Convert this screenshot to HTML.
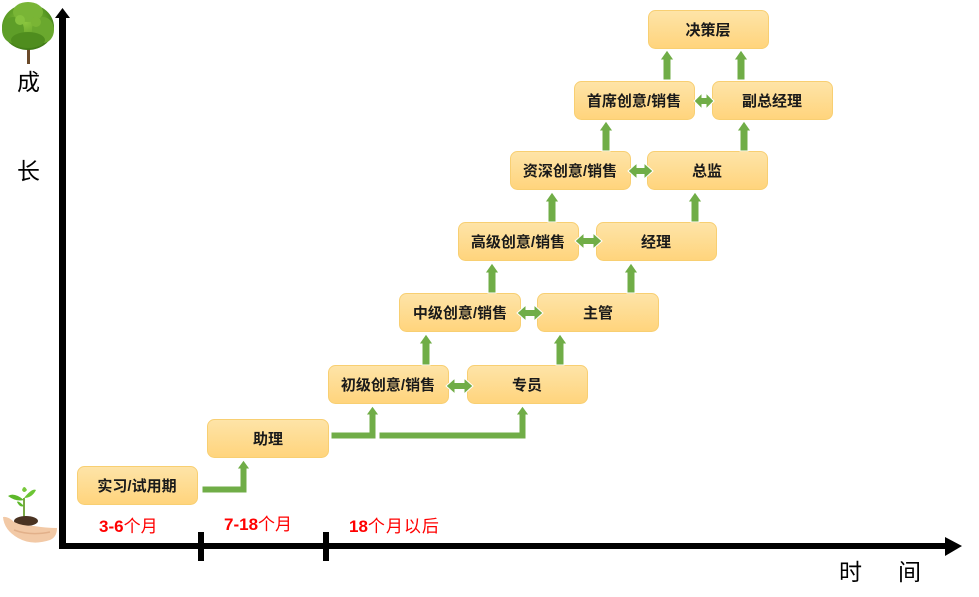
<!DOCTYPE html>
<html><head><meta charset="utf-8"><style>
html,body{margin:0;padding:0;background:#fff;}
body{width:979px;height:597px;overflow:hidden;position:relative;}
svg{position:absolute;left:0;top:0;}
.bt{font-family:"Liberation Sans","Noto Sans CJK SC",sans-serif;font-size:15px;font-weight:bold;fill:#1a1a1a;}
.ax{font-family:"Liberation Sans","Noto Sans CJK SC",sans-serif;font-size:23px;fill:#000;}
.rd{font-family:"Liberation Sans","Noto Sans CJK SC",sans-serif;font-size:17px;fill:#ff0000;}
</style></head><body>
<svg width="979" height="597" viewBox="0 0 979 597" xmlns="http://www.w3.org/2000/svg">
<defs>
<linearGradient id="g" x1="0" y1="0" x2="0" y2="1">
<stop offset="0" stop-color="#fee4a8"/>
<stop offset="1" stop-color="#ffd47c"/>
</linearGradient>
<radialGradient id="tr" cx="0.45" cy="0.4" r="0.6">
<stop offset="0" stop-color="#8cc63f"/>
<stop offset="0.7" stop-color="#5a9a24"/>
<stop offset="1" stop-color="#3f7a16"/>
</radialGradient>
</defs>

<!-- tree -->
<rect x="27" y="40" width="3" height="24" fill="#6b4a2a"/>
<ellipse cx="28" cy="27" rx="26" ry="23" fill="url(#tr)"/>
<ellipse cx="13" cy="30" rx="11" ry="13" fill="#5e9e28"/>
<ellipse cx="43" cy="30" rx="11" ry="13" fill="#6aa82e"/>
<ellipse cx="28" cy="12" rx="15" ry="10" fill="#79b536"/>
<ellipse cx="28" cy="40" rx="17" ry="8" fill="#4f8d1e"/>
<circle cx="20" cy="20" r="5" fill="#86c23e"/>
<circle cx="36" cy="22" r="5" fill="#7ab535"/>

<!-- seedling in hand -->
<path d="M24 520 L24 498" stroke="#7aa845" stroke-width="2" fill="none"/>
<path d="M24 500 Q14 492 8 496 Q16 502 24 500Z" fill="#5db82a"/>
<path d="M24 498 Q32 488 36 490 Q32 498 24 498Z" fill="#6cc534"/>
<path d="M24 506 Q18 500 17 502 Q20 508 24 506Z" fill="#5db82a"/>
<path d="M22 490 Q24 484 27 490 Q24 494 22 490Z" fill="#78c83c"/>
<ellipse cx="26" cy="521" rx="12" ry="5" fill="#4a3322"/>
<path d="M3 517 Q4 530 18 538 Q32 546 50 540 Q57 537 57 528 Q46 528 34 526 Q22 526 14 522 Q8 516 3 517Z" fill="#f2c9a6"/>
<path d="M14 530 Q30 536 50 532" stroke="#e2b08a" stroke-width="1.5" fill="none"/>

<!-- axes -->
<rect x="59" y="14" width="7" height="535" fill="#000"/>
<polygon points="62.5,8 55,18 70,18" fill="#000"/>
<rect x="59" y="543" width="892" height="6" fill="#000"/>
<polygon points="962,546 945,537 945,556" fill="#000"/>
<rect x="198" y="532" width="6" height="29" fill="#000"/>
<rect x="323" y="532" width="6" height="29" fill="#000"/>

<text class="ax" x="17" y="90">成</text>
<text class="ax" x="17" y="179">长</text>
<text class="ax" x="839" y="580">时</text>
<text class="ax" x="898" y="580">间</text>

<text class="rd" x="99" y="532"><tspan font-weight="bold">3-6</tspan>个月</text>
<text class="rd" x="224" y="530"><tspan font-weight="bold">7-18</tspan>个月</text>
<text class="rd" x="349" y="532"><tspan font-weight="bold">18</tspan><tspan letter-spacing="1">个月以后</tspan></text>

<!-- boxes -->
<g stroke="#f8cf72" stroke-width="1" fill="url(#g)">
<rect x="648.5" y="10.5" width="120" height="38" rx="7"/>
<rect x="574.5" y="81.5" width="120" height="38" rx="7"/>
<rect x="712.5" y="81.5" width="120" height="38" rx="7"/>
<rect x="510.5" y="151.5" width="120" height="38" rx="7"/>
<rect x="647.5" y="151.5" width="120" height="38" rx="7"/>
<rect x="458.5" y="222.5" width="120" height="38" rx="7"/>
<rect x="596.5" y="222.5" width="120" height="38" rx="7"/>
<rect x="399.5" y="293.5" width="121" height="38" rx="7"/>
<rect x="537.5" y="293.5" width="121" height="38" rx="7"/>
<rect x="328.5" y="365.5" width="120" height="38" rx="7"/>
<rect x="467.5" y="365.5" width="120" height="38" rx="7"/>
<rect x="207.5" y="419.5" width="121" height="38" rx="7"/>
<rect x="77.5" y="466.5" width="120" height="38" rx="7"/>
</g>

<g class="bt" text-anchor="middle">
<text x="708" y="35">决策层</text>
<text x="634" y="106">首席创意/销售</text>
<text x="772" y="106">副总经理</text>
<text x="570" y="176">资深创意/销售</text>
<text x="707" y="176">总监</text>
<text x="518" y="247">高级创意/销售</text>
<text x="656" y="247">经理</text>
<text x="460" y="318">中级创意/销售</text>
<text x="598" y="318">主管</text>
<text x="388" y="390">初级创意/销售</text>
<text x="527" y="390">专员</text>
<text x="268" y="444">助理</text>
<text x="137" y="491">实习/试用期</text>
</g>

<!-- vertical up arrows -->
<g fill="#70ad47" stroke="#fff" stroke-width="1">
<path d="M663 80 L663 60 L660 60 L667 50 L674 60 L671 60 L671 80Z"/>
<path d="M737 80 L737 60 L734 60 L741 50 L748 60 L745 60 L745 80Z"/>
<path d="M602 151 L602 131 L599 131 L606 121 L613 131 L610 131 L610 151Z"/>
<path d="M740 151 L740 131 L737 131 L744 121 L751 131 L748 131 L748 151Z"/>
<path d="M548 222 L548 202 L545 202 L552 192 L559 202 L556 202 L556 222Z"/>
<path d="M691 222 L691 202 L688 202 L695 192 L702 202 L699 202 L699 222Z"/>
<path d="M488 293 L488 273 L485 273 L492 263 L499 273 L496 273 L496 293Z"/>
<path d="M627 293 L627 273 L624 273 L631 263 L638 273 L635 273 L635 293Z"/>
<path d="M422 365 L422 344 L419 344 L426 334 L433 344 L430 344 L430 365Z"/>
<path d="M556 365 L556 344 L553 344 L560 334 L567 344 L564 344 L564 365Z"/>
</g>

<!-- double arrows -->
<g fill="#70ad47" stroke="#fff" stroke-width="1">
<path d="M694 101 L702 93 L702 97.5 L706 97.5 L706 93 L714 101 L706 109 L706 104.5 L702 104.5 L702 109Z"/>
<path d="M628 171 L637 163 L637 167.5 L644 167.5 L644 163 L653 171 L644 179 L644 174.5 L637 174.5 L637 179Z"/>
<path d="M575 241 L584 233 L584 237.5 L593 237.5 L593 233 L602 241 L593 249 L593 244.5 L584 244.5 L584 249Z"/>
<path d="M517 313 L526 305 L526 309.5 L534 309.5 L534 305 L543 313 L534 321 L534 316.5 L526 316.5 L526 321Z"/>
<path d="M446 386 L455 378 L455 382.5 L464 382.5 L464 378 L473 386 L464 394 L464 389.5 L455 389.5 L455 394Z"/>
</g>

<!-- elbow arrows -->
<g fill="#70ad47" stroke="#fff" stroke-width="1">
<path d="M202 486 L240 486 L240 469 L237 469 L243.5 460 L250 469 L247 469 L247 493 L202 493Z"/>
<path d="M331 432 L369 432 L369 415 L366 415 L372.5 406 L379 415 L376 415 L376 439 L331 439Z"/>
<path d="M379 432 L519 432 L519 415 L516 415 L522.5 406 L529 415 L526 415 L526 439 L379 439Z"/>
</g>
</svg>
</body></html>
